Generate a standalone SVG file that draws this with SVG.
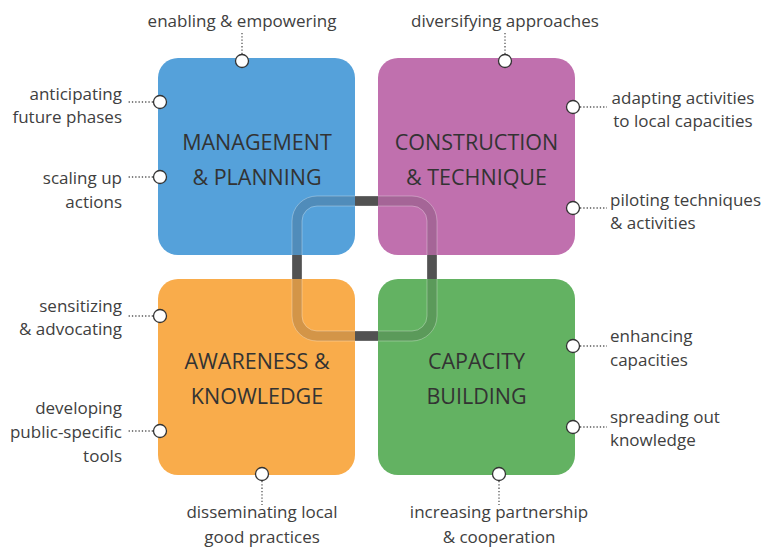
<svg xmlns="http://www.w3.org/2000/svg" width="768" height="549" viewBox="0 0 768 549">
<style>
.t{font-family:"Open Sans","Liberation Sans",sans-serif;font-size:17px;fill:#404040}
.big{font-family:"Open Sans","Liberation Sans",sans-serif;font-size:21.5px;fill:#333;text-anchor:middle}
.m{text-anchor:middle}.e{text-anchor:end}
.dot{stroke:#555;stroke-width:1.3;stroke-dasharray:1.3 2;fill:none}
.c{fill:#fff;stroke:#333;stroke-width:1.3}
</style>
<rect width="768" height="549" fill="#fff"/>
<rect x="297" y="201" width="135" height="135" rx="20" fill="none" stroke="#585858" stroke-width="10"/>
<g id="management">
<rect x="158" y="58" width="197" height="197" rx="20" fill="#55A1DA"/>
<text class="big" x="257" y="150">MANAGEMENT</text>
<text class="big" x="257" y="185">&amp; PLANNING</text>
</g>
<g id="construction">
<rect x="378" y="58" width="197" height="197" rx="20" fill="#C070AE"/>
<text class="big" x="476.5" y="150">CONSTRUCTION</text>
<text class="big" x="476.5" y="185">&amp; TECHNIQUE</text>
</g>
<g id="awareness">
<rect x="158" y="279" width="197" height="196" rx="20" fill="#F9AC4B"/>
<text class="big" x="257" y="369">AWARENESS &amp;</text>
<text class="big" x="257" y="404">KNOWLEDGE</text>
</g>
<g id="capacity">
<rect x="378" y="279" width="197" height="196" rx="20" fill="#63B262"/>
<text class="big" x="476.5" y="369">CAPACITY</text>
<text class="big" x="476.5" y="404">BUILDING</text>
</g>
<g id="ring-overlay" fill="none">
<rect x="297" y="201" width="135" height="135" rx="20" stroke="#3a3a3a" stroke-opacity="0.2" stroke-width="10"/>
<rect x="292" y="196" width="145" height="145" rx="25" stroke="#fff" stroke-opacity="0.3" stroke-width="1"/>
<rect x="302" y="206" width="125" height="125" rx="15" stroke="#fff" stroke-opacity="0.3" stroke-width="1"/>
</g>
<g id="connectors">
<path class="dot" d="M242 54V31M505 54V31M153 102H127M153 177H127M153 316H127M153 431H127M580 107H607M580 208H607M580 346H607M580 427H607M262 481V505M499 481V505"/>
</g>
<g id="markers">
<circle class="c" cx="242" cy="61" r="6.5"/>
<circle class="c" cx="505" cy="61" r="6.5"/>
<circle class="c" cx="160" cy="102" r="6.5"/>
<circle class="c" cx="160" cy="177" r="6.5"/>
<circle class="c" cx="160" cy="316" r="6.5"/>
<circle class="c" cx="160" cy="431" r="6.5"/>
<circle class="c" cx="573" cy="107" r="6.5"/>
<circle class="c" cx="573" cy="208" r="6.5"/>
<circle class="c" cx="573" cy="346" r="6.5"/>
<circle class="c" cx="573" cy="427" r="6.5"/>
<circle class="c" cx="262" cy="474" r="6.5"/>
<circle class="c" cx="499" cy="474" r="6.5"/>
</g>
<g id="labels">
<text class="t m" x="242" y="27">enabling &amp; empowering</text>
<text class="t m" x="505" y="27">diversifying approaches</text>
<text class="t e" x="122" y="100">anticipating</text>
<text class="t e" x="122" y="123">future phases</text>
<text class="t e" x="122" y="184">scaling up</text>
<text class="t e" x="122" y="208">actions</text>
<text class="t e" x="122" y="312">sensitizing</text>
<text class="t e" x="122" y="335">&amp; advocating</text>
<text class="t e" x="122" y="414">developing</text>
<text class="t e" x="122" y="438">public-specific</text>
<text class="t e" x="122" y="462">tools</text>
<text class="t m" x="683" y="104">adapting activities</text>
<text class="t m" x="683" y="127">to local capacities</text>
<text class="t" x="610" y="206">piloting techniques</text>
<text class="t" x="610" y="229">&amp; activities</text>
<text class="t" x="610" y="342">enhancing</text>
<text class="t" x="610" y="366">capacities</text>
<text class="t" x="610" y="423">spreading out</text>
<text class="t" x="610" y="446">knowledge</text>
<text class="t m" x="262" y="518">disseminating local</text>
<text class="t m" x="262" y="543">good practices</text>
<text class="t m" x="499" y="518">increasing partnership</text>
<text class="t m" x="499" y="543">&amp; cooperation</text>
</g>
</svg>
